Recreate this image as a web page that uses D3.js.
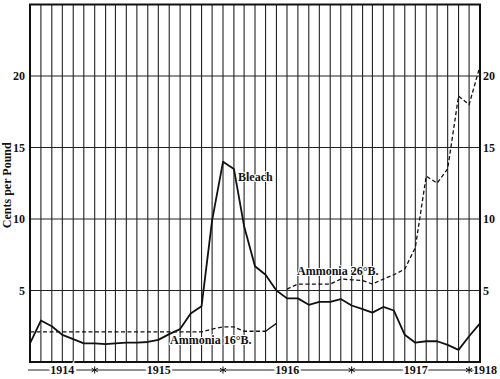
<!DOCTYPE html>
<html>
<head>
<meta charset="utf-8">
<script src="https://d3js.org/d3.v7.min.js"></script>
<style>
  body { margin: 0; background: #fff; }
  text { font-family: "Liberation Serif", "DejaVu Serif", serif; font-weight: bold; fill: #111; }
</style>
</head>
<body>
<svg id="drawing_region"></svg>
<script>
// monthly prices, cents per pound
const bleach = [1.3, 2.9, 2.5, 1.9, 1.6, 1.3, 1.3, 1.25, 1.3, 1.35, 1.35, 1.4,
    1.55, 1.95, 2.3, 3.4, 3.9, 9.9, 14.0, 13.5, 9.5, 6.7, 6.1, 5.0,
    4.45, 4.45, 4.0, 4.2, 4.2, 4.4, 3.95, 3.7, 3.45, 3.85, 3.6, 1.9,
    1.35, 1.45, 1.45, 1.2, 0.85, 1.8, 2.7];          // Jul 1914 - Jan 1918
const ammonia16 = [2.1, 2.1, 2.1, 2.1, 2.1, 2.1, 2.1, 2.1, 2.1, 2.1, 2.1, 2.1,
    2.1, 2.1, 2.1, 2.1, 2.1, 2.3, 2.45, 2.45, 2.15, 2.15, 2.15, 2.7]; // Jul 1914 - Jun 1916
const ammonia26 = [5.1, 5.45, 5.45, 5.45, 5.45, 5.8, 5.75, 5.7, 5.45, 5.8, 6.1, 6.5,
    8.0, 13.0, 12.5, 13.5, 18.6, 18.0, 20.7];          // Jul 1916 - Jan 1918

const years = ["1914", "1915", "1916", "1917"];
const yTicks = [5, 10, 15, 20];

const start = new Date(1914, 6, 1);
const end = new Date(1918, 0, 1);
const months = d3.timeMonth.range(start, d3.timeMonth.offset(end, 1));

class PriceChart {
    constructor( config ) {
        this.config = config;
        this.init();
    }

    init() {
        let self = this;
        const c = self.config;

        self.svg = d3.select( c.parent )
            .attr('width', c.width)
            .attr('height', c.height);

        self.xscale = d3.scaleTime()
            .domain( [start, end] )
            .range( [c.left, c.right] );

        self.yscale = d3.scaleLinear()
            .domain( [0, 25] )
            .range( [c.bottom, c.top] );
    }

    render() {
        let self = this;
        const c = self.config;
        const x = self.xscale, y = self.yscale;

        // monthly grid
        self.svg.append('g').selectAll('line')
            .data(months)
            .join('line')
            .attr('x1', d => x(d)).attr('x2', d => x(d))
            .attr('y1', c.top).attr('y2', c.bottom)
            .attr('stroke', '#222')
            .attr('stroke-width', 1.1);

        self.svg.append('g').selectAll('line')
            .data(yTicks)
            .join('line')
            .attr('x1', c.left).attr('x2', c.right)
            .attr('y1', d => y(d)).attr('y2', d => y(d))
            .attr('stroke', '#222')
            .attr('stroke-width', 1.1);

        // frame
        self.svg.append('rect')
            .attr('x', c.left).attr('y', c.top)
            .attr('width', c.right - c.left)
            .attr('height', c.bottom - c.top)
            .attr('fill', 'none')
            .attr('stroke', '#111')
            .attr('stroke-width', 2);

        // y axes
        const yl = self.svg.append('g')
            .attr('transform', `translate(${c.left}, 0)`)
            .call( d3.axisLeft(y).tickValues(yTicks).tickSize(0).tickPadding(5) );
        const yr = self.svg.append('g')
            .attr('transform', `translate(${c.right}, 0)`)
            .call( d3.axisRight(y).tickValues(yTicks).tickSize(0).tickPadding(3) );
        [yl, yr].forEach( g => {
            g.select('.domain').remove();
            g.selectAll('text')
                .attr('font-size', '12px')
                .attr('font-family', '"Liberation Serif", serif')
                .attr('font-weight', 'bold')
                .attr('fill', '#111');
        });

        self.svg.append('text')
            .attr('transform', `translate(11, ${(c.bottom + c.top) / 2 + 2}) rotate(-90)`)
            .attr('text-anchor', 'middle')
            .attr('font-size', '12px')
            .text('Cents per Pound');

        // lines
        const line = d3.line()
            .x( d => x(d.date) )
            .y( d => y(d.value) );
        const series = (vals, from) => vals.map( (v, i) => ({ date: d3.timeMonth.offset(from, i), value: v }) );

        const b = series(bleach, start);
        const a16 = series(ammonia16, start);
        const a26 = series(ammonia26, new Date(1916, 6, 1));

        self.svg.append('path')
            .datum(b)
            .attr('d', line)
            .attr('fill', 'none')
            .attr('stroke', '#111')
            .attr('stroke-width', 1.8)
            .attr('stroke-linejoin', 'round');

        self.svg.append('path')
            .datum(a16.slice(0, a16.length - 1))
            .attr('d', line)
            .attr('fill', 'none')
            .attr('stroke', '#111')
            .attr('stroke-width', 1.3)
            .attr('stroke-dasharray', '4,2.5');
        self.svg.append('path')
            .datum(a16.slice(a16.length - 2))
            .attr('d', line)
            .attr('fill', 'none')
            .attr('stroke', '#111')
            .attr('stroke-width', 1.3);

        self.svg.append('path')
            .datum(a26)
            .attr('d', line)
            .attr('fill', 'none')
            .attr('stroke', '#111')
            .attr('stroke-width', 1.3)
            .attr('stroke-dasharray', '4,2.5');

        // series labels
        const label = (txt, xx, yy) => self.svg.append('text')
            .attr('x', xx).attr('y', yy)
            .attr('font-size', '12px')
            .attr('stroke', '#fff').attr('stroke-width', 2)
            .attr('paint-order', 'stroke')
            .text(txt);
        label('Bleach', 238, 181);
        label('Ammonia 16°B.', 170, 344);
        label('Ammonia 26°B.', 297, 275);

        // year axis
        const ya = c.bottom + 8;
        self.svg.append('line')
            .attr('x1', c.left - 2).attr('x2', c.right)
            .attr('y1', ya).attr('y2', ya)
            .attr('stroke', '#222')
            .attr('stroke-width', 1);

        const yearStart = d => d === "1914" ? start : new Date(+d, 0, 1);
        self.svg.append('g').selectAll('text')
            .data(years)
            .join('text')
            .attr('x', d => (x(yearStart(d)) + x(new Date(+d + 1, 0, 1))) / 2)
            .attr('y', ya + 4)
            .attr('text-anchor', 'middle')
            .attr('font-size', '12px')
            .attr('stroke', '#fff').attr('stroke-width', 4)
            .attr('paint-order', 'stroke')
            .text(d => d);

        const starDates = [new Date(1915, 0, 1), new Date(1916, 0, 1), new Date(1917, 0, 1), new Date(1917, 11, 1)];
        self.svg.append('g').selectAll('path')
            .data(starDates)
            .join('path')
            .attr('transform', d => `translate(${x(d)}, ${ya})`)
            .attr('d', d3.symbol(d3.symbolAsterisk, 36))
            .attr('fill', 'none')
            .attr('stroke', '#111')
            .attr('stroke-width', 1);

        self.svg.append('text')
            .attr('x', x(new Date(1917, 11, 1)) + 4)
            .attr('y', ya + 4)
            .attr('font-size', '12px')
            .attr('stroke', '#fff').attr('stroke-width', 3)
            .attr('paint-order', 'stroke')
            .text('1918');
    }
}

const chart = new PriceChart({
    parent: '#drawing_region',
    width: 500,
    height: 379,
    left: 30, right: 480, top: 4.5, bottom: 362
});
chart.render();
</script>
</body>
</html>
